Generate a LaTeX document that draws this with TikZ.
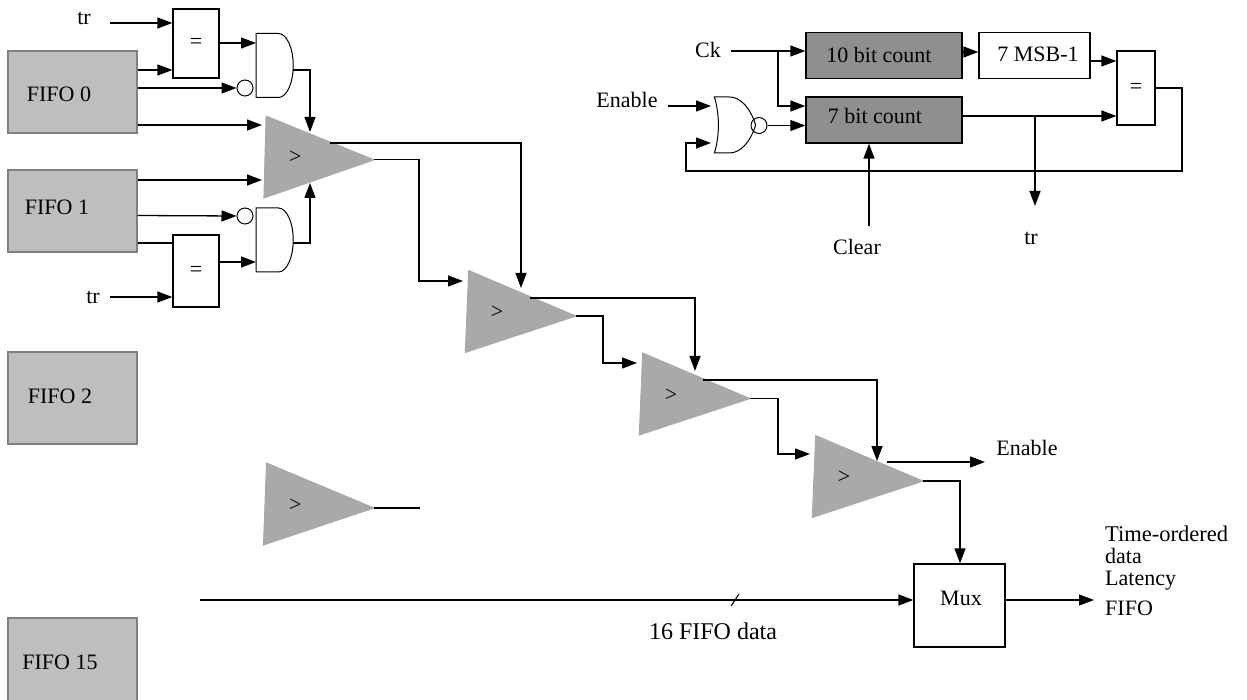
\documentclass[tikz,border=0pt]{standalone}
\usepackage{fontspec}
\setmainfont{Liberation Serif}
\usetikzlibrary{arrows.meta,shapes.geometric,shapes.gates.logic.US}

\definecolor{fifogrey}{HTML}{BEBEBE}
\definecolor{cntgrey}{HTML}{8F8F8F}
\definecolor{cmpgrey}{HTML}{A9A9A9}
\newcommand{\gtmark}[1][-4pt]{\rlap{\hspace{0pt}\raisebox{#1}{>}}}

\tikzset{
	line/.style={draw=black, line width=1.3pt},
	wire/.style={line, -{Triangle[length=15pt,width=11pt]}},
	lbl/.style={inner sep=0pt, font=\fontsize{22}{24}\selectfont},
	fifo/.style={rectangle, draw=black!50, line width=1.3pt, fill=fifogrey, minimum width=129pt, minimum height=82pt, inner sep=0pt},
	plainbox/.style={rectangle, draw=black, line width=1.3pt, fill=white, inner sep=0pt, font=\fontsize{22}{24}\selectfont},
	cntbox/.style={plainbox, fill=cntgrey, minimum width=156pt, minimum height=46pt},
	cmp/.style={isosceles triangle, isosceles triangle stretches, shape border rotate=0, draw=cmpgrey, line width=1pt, fill=cmpgrey, minimum width=82pt, minimum height=109pt, inner sep=0pt, outer sep=0pt, anchor=lower side, rotate=#1, font=\fontsize{22}{24}\selectfont},
	cmp/.default=-2.4,
	andg/.style={and gate US, draw=black, line width=1pt, logic gate inputs=nn, minimum height=64pt, inner sep=0pt, transform shape, xscale=0.4625},
	org/.style={or gate US, draw=black, line width=1pt, logic gate inputs=nn, minimum height=56pt, inner sep=0pt, transform shape, xscale=0.54},
	bub/.style={circle, draw=black, line width=1pt, minimum size=16pt, inner sep=0pt},
}

\begin{document}
\begin{tikzpicture}[x=1pt,y=-1pt]
	\useasboundingbox (0,0) rectangle (1247,700);
	%%%%% fifos %%%%%
	\node[fifo] (fifoa) at (72.5,92) {};
	\node[fifo] (fifob) at (72.5,211) {};
	\node[fifo, minimum height=92pt] (fifoc) at (72.5,398) {};
	\node[fifo, minimum height=88pt] (fifod) at (72.5,662) {};
	\node[lbl] (fifoatxt) at (59,94) {FIFO 0};
	\node[lbl] (fifobtxt) at (57,207) {FIFO 1};
	\node[lbl] (fifoctxt) at (60,396) {FIFO 2};
	\node[lbl] (fifodtxt) at (60,662) {FIFO 15};
	
	%%%%% first stage %%%%%
	\node[plainbox, minimum width=46pt, minimum height=69pt] (eqa) at (196,43.5) {=};
	\node[plainbox, minimum width=46pt, minimum height=72pt] (eqb) at (196,271) {=};
	\node[andg] (anda) at (273.5,65.5) {};
	\node[andg] (andb) at (273.5,240) {};
	\node[bub] (buba) at (245,88) {};
	\node[bub] (bubb) at (245,216) {};
	\node[cmp=-1.5] (cmpa) at (265,157) {\gtmark[-2pt]};
	\node[lbl] (tra) at (84,18) {tr};
	\node[lbl] (trb) at (93,297) {tr};
	\coordinate (train) at (110,23);
	\coordinate (trbin) at (110,297);
	
	\draw[wire] (train) -- (eqa.west |- train);
	\draw[wire] (trbin) -- (eqb.west |- trbin);
	\draw[wire] (fifoa.east |- 0,70) -- (eqa.west |- 0,70);
	\draw[wire] (fifoa.east |- 0,88) -- (buba.west);
	\draw[wire] (fifoa.east |- 0,125) -- (262,125);
	\draw[wire] (fifob.east |- 0,180) -- (262,180);
	\draw[wire] (fifob.east |- 0,215.5) -- (bubb.west);
	\draw[line] (fifob.east |- 0,243) -- (eqb.west |- 0,243);
	\draw[wire] (eqa.east |- 0,43) -- (anda.west |- 0,43);
	\draw[wire] (eqb.east |- 0,262) -- (andb.west |- 0,262);
	\draw[wire] (anda.east |- 0,70) -| (310,132);
	\draw[wire] (andb.east |- 0,243) -| (310,183);
	
	%%%%% comparators %%%%%
	\node[cmp] (cmpb) at (467,311.5) {\gtmark};
	\node[cmp] (cmpc) at (641,394) {\gtmark};
	\node[cmp] (cmpd) at (814,476.5) {\gtmark};
	\node[cmp=-2.1] (cmpe) at (265,504) {\gtmark[-9pt]};
	\coordinate (cmpatop) at (330,143);
	\coordinate (cmpbtop) at (530,298);
	\coordinate (cmpctop) at (703,380);
	\coordinate (cmpdtop) at (887,462);
	\coordinate (cmpeend) at (420,508);
	
	\draw[wire] (cmpatop) -| (521,288);
	\draw[wire] (cmpa.apex) -| (419,281) -- (463,281);
	\draw[wire] (cmpbtop) -| (695,371);
	\draw[wire] (cmpb.apex) -| (603,363) -- (637,363);
	\draw[wire] (cmpctop) -| (877,461);
	\draw[wire] (cmpc.apex) -| (778,454) -- (810,454);
	\draw[line] (cmpe.apex) -- (cmpeend |- cmpe.apex);
	
	%%%%% output %%%%%
	\node[plainbox, minimum width=91pt, minimum height=83pt] (mux) at (959.5,605.5) {};
	\node[lbl] (muxtxt) at (961,598) {Mux};
	\node[lbl] (enout) at (1027,448) {Enable};
	\node[lbl, anchor=west, font=\fontsize{22.5}{24}\selectfont] (timetxt) at (1105,534) {Time-ordered};
	\node[lbl, anchor=west] (datatxt) at (1105,556) {data};
	\node[lbl, anchor=west] (lattxt) at (1105,581) {Latency};
	\node[lbl, anchor=west] (ofifotxt) at (1105,608) {FIFO};
	\node[lbl, font=\fontsize{24}{24}\selectfont] (busltxt) at (713,631) {16 FIFO data};
	\coordinate (busin) at (200,600);
	\coordinate (enend) at (985,462);
	\coordinate (muxend) at (1094,600);
	\coordinate (slasha) at (731,606);
	\coordinate (slashb) at (739,594);
	
	\draw[wire] (cmpdtop) -- (enend);
	\draw[wire] (cmpd.apex) -| (mux.north -| 960,0);
	\draw[wire] (busin) -- (mux.west |- busin);
	\draw[wire] (mux.east |- muxend) -- (muxend);
	\draw[line, line width=1pt] (slasha) -- (slashb);
	
	%%%%% counters %%%%%
	\node[cntbox] (cnta) at (884,55.5) {};
	\node[cntbox] (cntb) at (884,120) {};
	\node[lbl] (cntatxt) at (879,55) {10 bit count};
	\node[lbl] (cntbtxt) at (875,116) {7 bit count};
	\node[plainbox, minimum width=111pt, minimum height=46pt] (msb) at (1034.5,55.5) {};
	\node[lbl] (msbtxt) at (1038,54) {7 MSB-1};
	\node[plainbox, minimum width=38pt, minimum height=74pt] (eqc) at (1136,88) {=};
	\node[org] (norg) at (732,125) {};
	\node[bub] (nbub) at (759,125.5) {};
	\node[lbl] (ck) at (708,50) {Ck};
	\node[lbl] (eninp) at (627,100) {Enable};
	\node[lbl] (clr) at (857,247) {Clear};
	\node[lbl] (trc) at (1031,238) {tr};
	\coordinate (ckout) at (731,51);
	\coordinate (ckbr) at (778,51);
	\coordinate (enin) at (668,106);
	\coordinate (clrin) at (869,226);
	\coordinate (trbr) at (1035,116);
	\coordinate (trend) at (1035,206);
	\coordinate (fbtop) at (1182,88);
	\coordinate (fbbot) at (686,171);
	
	\draw[wire] (ckout) -- (cnta.west |- ckout);
	\draw[wire] (ckbr) |- (cntb.west |- 0,106);
	\draw[wire] (enin) -- (711,106);
	\draw[wire] (nbub.east) -- (cntb.west |- nbub.east);
	\draw[wire] (clrin) -- (cntb.south -| clrin);
	\draw[wire] (cnta.east |- 0,52) -- (msb.west |- 0,52);
	\draw[wire] (msb.east |- 0,61) -- (eqc.west |- 0,61);
	\draw[wire] (cntb.east |- 0,116) -- (eqc.west |- 0,116);
	\draw[wire] (trbr) -- (trend);
	\draw[wire] (eqc.east |- fbtop) -- (fbtop) |- (fbbot) |- (711,143);
\end{tikzpicture}
\end{document}
